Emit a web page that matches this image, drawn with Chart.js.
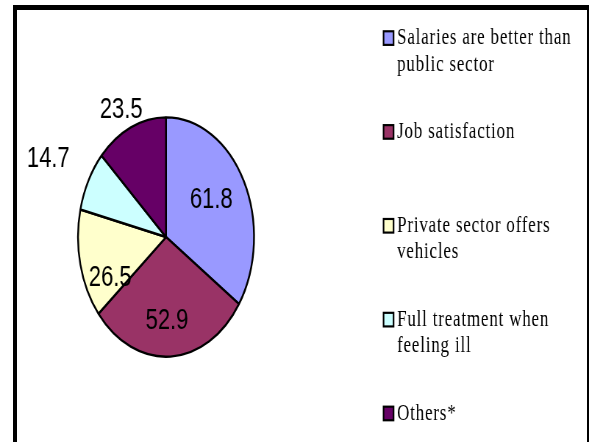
<!DOCTYPE html>
<html>
<head>
<meta charset="utf-8">
<script src="https://cdn.jsdelivr.net/npm/chart.js@4"></script>
<style>
    body { margin: 0; background: #fff; }
    #wrap { position: relative; width: 589px; height: 442px; overflow: hidden; }
    #frame {
        position: absolute; left: 13px; top: 5px; width: 570px; height: 460px;
        border-left: 4px solid #000; border-top: 5px solid #000; border-right: 2px solid #000;
    }
</style>
</head>
<body>
<div id="wrap">
    <div id="frame"></div>
    <canvas id="reasonsChart" width="589" height="325"
        style="position:absolute; left:0; top:0; width:589px; height:442px;"></canvas>
</div>
<script>
// reasons for preferring the private sector (%)

const categories = [
    'Salaries are better than public sector',
    'Job satisfaction',
    'Private sector offers vehicles',
    'Full treatment when feeling ill',
    'Others*'
]
const percentages = [61.8, 52.9, 26.5, 14.7, 23.5]
const sliceColors = ['#9999FF', '#993366', '#FFFFCC', '#CCFFFF', '#660066']

// the original picture is stretched vertically, so the chart is drawn
// into a 589x325 space and shown at 589x442
const stretch = 442 / 325 + 0.0001;

// where each value label sits: fraction of radius, angle nudge (deg)
const labelPlace = [
    { r: 0.6, nudge: -3 },
    { r: 0.7, nudge: 2 },
    { r: 0.72, nudge: -15 },
    { r: 1.49, nudge: -2 },
    { r: 1.18, nudge: -2 },
];

const valueLabels = {
    id: 'valueLabels',
    afterDatasetsDraw(chart) {
        const ctx = chart.ctx;
        const arcs = chart.getDatasetMeta(0).data;
        ctx.save();
        ctx.font = '22px "Liberation Sans", Arial, sans-serif';
        ctx.fillStyle = '#000';
        ctx.textAlign = 'center';
        ctx.textBaseline = 'middle';
        arcs.forEach((arc, i) => {
            const p = arc.getProps(['x', 'y', 'startAngle', 'endAngle', 'outerRadius'], true);
            const mid = (p.startAngle + p.endAngle) / 2 + labelPlace[i].nudge * Math.PI / 180;
            const r = p.outerRadius * labelPlace[i].r;
            ctx.fillText(percentages[i].toFixed(1), p.x + Math.cos(mid) * r, p.y + Math.sin(mid) * r);
        });
        ctx.restore();
    }
};

// legend on the right, wrapped text like the original
const sideLegend = {
    id: 'sideLegend',
    afterDraw(chart) {
        const ctx = chart.ctx;
        const boxX = 383.5, textX = 397, firstY = 28, itemGap = 69, lineH = 19.5, maxW = 182;
        ctx.save();
        ctx.font = '17px "Liberation Serif", "Times New Roman", serif';
        ctx.letterSpacing = '0.8px';
        ctx.textBaseline = 'middle';
        categories.forEach((name, i) => {
            const y = firstY + i * itemGap;
            // wrap words
            const words = name.split(' ');
            const lines = [];
            let line = '';
            words.forEach(w => {
                const test = line ? line + ' ' + w : w;
                if (line && ctx.measureText(test).width > maxW) {
                    lines.push(line);
                    line = w;
                } else {
                    line = test;
                }
            });
            lines.push(line);

            ctx.fillStyle = sliceColors[i];
            ctx.fillRect(boxX, y - 5, 10, 10);
            ctx.strokeStyle = '#000';
            ctx.lineWidth = 1.6;
            ctx.strokeRect(boxX, y - 5, 10, 10);

            ctx.fillStyle = '#000';
            lines.forEach((l, j) => ctx.fillText(l, textX, y + j * lineH));
        });
        ctx.restore();
    }
};

const pieChart = new Chart(document.getElementById('reasonsChart'), {
    type: 'pie',
    data: {
        labels: categories,
        datasets: [{
            data: percentages,
            backgroundColor: sliceColors,
            borderColor: '#000',
            borderWidth: 1.8,
        }]
    },
    options: {
        responsive: false,
        devicePixelRatio: stretch,
        animation: false,
        radius: 88,
        layout: {
            padding: { left: 0, right: 257, top: 23.6, bottom: 0 }
        },
        plugins: {
            legend: { display: false },
            tooltip: { enabled: false },
        },
    },
    plugins: [valueLabels, sideLegend]
});
</script>
</body>
</html>
